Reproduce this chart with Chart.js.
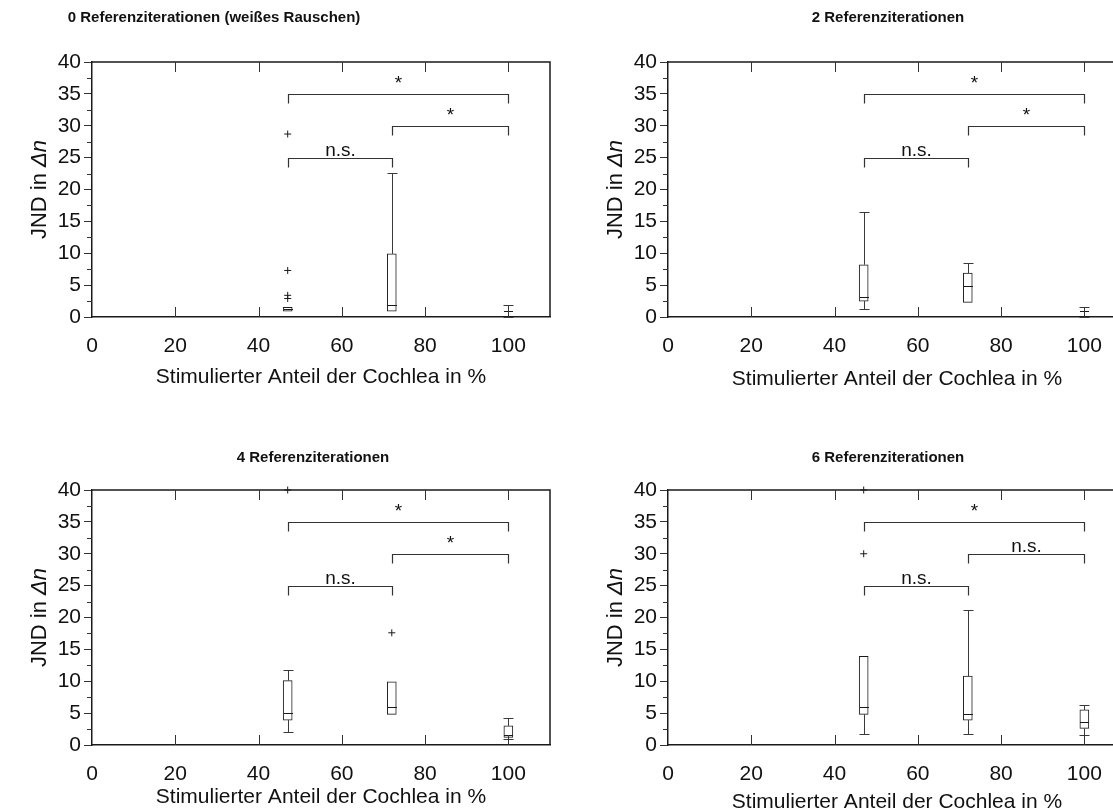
<!DOCTYPE html>
<html>
<head>
<meta charset="utf-8">
<title>JND – Stimulierter Anteil der Cochlea</title>
<script src="https://cdn.jsdelivr.net/npm/chart.js@4.4.1/dist/chart.umd.min.js"></script>
<style>
  html, body { margin: 0; padding: 0; background: #fff; overflow: hidden; width: 1113px; height: 808px; }
  .panel { position: absolute; width: 560px; height: 404px; }
</style>
</head>
<body>
<div class="panel" style="left:0;top:0"><canvas id="c0"></canvas></div>
<div class="panel" style="left:576px;top:0"><canvas id="c1"></canvas></div>
<div class="panel" style="left:0;top:428px"><canvas id="c2"></canvas></div>
<div class="panel" style="left:576px;top:428px"><canvas id="c3"></canvas></div>
<script>
// Box positions on the x axis (stimulated share of the cochlea, %)
const xPositions = [47, 72, 100];

const panelTitles = [
  '0 Referenziterationen (weißes Rauschen)',
  '2 Referenziterationen',
  '4 Referenziterationen',
  '6 Referenziterationen'
];

// One row per panel, one entry per box (47 %, 72 %, 100 %)
const whiskerLow  = [[0.9, 0.9, 0.0], [1.2, 2.3, 0.0], [2.1, 4.8, 1.0], [1.8, 1.8, 1.6]];
const quartile1   = [[0.9, 0.9, 0.9], [2.5, 2.3, 0.95], [3.9, 4.8, 1.2], [4.8, 3.9, 2.6]];
const medians     = [[1.3, 1.9, 0.9], [3.2, 4.9, 0.95], [5.0, 5.9, 1.5], [5.9, 4.8, 3.6]];
const quartile3   = [[1.5, 9.9, 0.9], [8.2, 6.9, 0.95], [10.1, 9.9, 3.0], [13.9, 10.8, 5.5]];
const whiskerHigh = [[1.5, 22.6, 1.9], [16.4, 8.4, 1.6], [11.8, 9.9, 4.3], [13.9, 21.2, 6.2]];

// Outliers (+)
const outlierX = [[47, 47, 47, 47], [], [47, 72], [47, 47]];
const outlierY = [[28.7, 7.3, 3.4, 2.9], [], [40, 17.6], [40, 30]];

// Significance brackets: from, to, level
const bracketFrom  = [47, 72, 47];
const bracketTo    = [100, 100, 72];
const bracketLevel = [35, 30, 25];
const bracketLabels = [
  ['*', '*', 'n.s.'],
  ['*', '*', 'n.s.'],
  ['*', '*', 'n.s.'],
  ['*', 'n.s.', 'n.s.']
];

// Axis settings
const xMin = 0, xMax = 110, xStep = 20, xLastLabel = 100;
const yMin = 0, yMax = 40, yStep = 5;
const xAxisTitle = 'Stimulierter Anteil der Cochlea in %';
const yAxisTitleMain = 'JND in ';
const yAxisTitleSymbol = 'Δn';

// Per-panel text placement (container pixels)
const titleCenterX = [214, 312, 313, 312];
const titleCenterY = [18, 18, 30, 30];
const xTitlePadBottom = [14, 12.5, 22, 17];

const FONT = "'Liberation Sans', Arial, Helvetica, sans-serif";
Chart.defaults.font.family = FONT;
Chart.defaults.color = '#111';

const INK = '#1a1a1a';
const BOX_W = 9;
const CAP_W = 10;

// Whiskers, medians, brackets, frame, inner ticks and titles
const boxPlotDecor = {
  id: 'boxPlotDecor',
  afterDatasetsDraw(chart, args, opts) {
    const p = opts.panel;
    const { ctx, chartArea: a } = chart;
    const xs = chart.scales.x, ys = chart.scales.y;
    ctx.save();

    // whiskers, caps and medians
    ctx.lineWidth = 1;
    xPositions.forEach((xv, i) => {
      const px = Math.round(xs.getPixelForValue(xv)) + 0.5;
      const lo = whiskerLow[p][i], hi = whiskerHigh[p][i];
      const b1 = quartile1[p][i], b3 = quartile3[p][i];
      ctx.strokeStyle = '#3a3a3a';
      ctx.beginPath();
      if (hi > b3) {
        const yh = Math.round(ys.getPixelForValue(hi)) + 0.5;
        ctx.moveTo(px, ys.getPixelForValue(b3));
        ctx.lineTo(px, yh);
        ctx.moveTo(px - CAP_W / 2, yh);
        ctx.lineTo(px + CAP_W / 2, yh);
      }
      if (lo < b1) {
        const yl = Math.round(ys.getPixelForValue(lo)) + 0.5;
        ctx.moveTo(px, ys.getPixelForValue(b1));
        ctx.lineTo(px, yl);
        ctx.moveTo(px - CAP_W / 2, yl);
        ctx.lineTo(px + CAP_W / 2, yl);
      }
      ctx.stroke();
      ctx.strokeStyle = INK;
      ctx.beginPath();
      const my = Math.round(ys.getPixelForValue(medians[p][i])) + 0.5;
      ctx.moveTo(px - BOX_W / 2, my);
      ctx.lineTo(px + BOX_W / 2, my);
      ctx.stroke();
    });

    // significance brackets
    ctx.strokeStyle = '#333';
    ctx.lineWidth = 1.2;
    ctx.fillStyle = '#111';
    ctx.textAlign = 'center';
    ctx.textBaseline = 'alphabetic';
    bracketLevel.forEach((lv, k) => {
      const x1 = Math.round(xs.getPixelForValue(bracketFrom[k])) + 0.5;
      const x2 = Math.round(xs.getPixelForValue(bracketTo[k])) + 0.5;
      const y = Math.round(ys.getPixelForValue(lv)) + 0.5;
      ctx.beginPath();
      ctx.moveTo(x1, y + 9);
      ctx.lineTo(x1, y);
      ctx.lineTo(x2, y);
      ctx.lineTo(x2, y + 9);
      ctx.stroke();
      const lab = bracketLabels[p][k];
      ctx.font = '19px ' + FONT;
      ctx.fillText(lab, (x1 + x2) / 2, lab === '*' ? y - 6 : y - 3);
    });

    // frame: top and right edges
    ctx.strokeStyle = INK;
    ctx.lineWidth = 1.5;
    ctx.beginPath();
    ctx.moveTo(a.left, a.top);
    ctx.lineTo(a.right, a.top);
    ctx.lineTo(a.right, a.bottom);
    ctx.stroke();

    // x ticks pointing inward from bottom and top
    ctx.lineWidth = 1;
    ctx.strokeStyle = '#333';
    xs.ticks.forEach(t => {
      if (t.value <= xMin || t.value > xLastLabel) return;
      const px = Math.round(xs.getPixelForValue(t.value)) + 0.5;
      ctx.beginPath();
      ctx.moveTo(px, a.bottom);
      ctx.lineTo(px, a.bottom - 10);
      ctx.moveTo(px, a.top);
      ctx.lineTo(px, a.top + 10);
      ctx.stroke();
    });

    // minor y ticks, outward
    for (let v = yMin + yStep / 2; v < yMax; v += yStep) {
      const py = Math.round(ys.getPixelForValue(v)) + 0.5;
      ctx.beginPath();
      ctx.moveTo(a.left, py);
      ctx.lineTo(a.left - 5, py);
      ctx.stroke();
    }

    // panel title
    ctx.fillStyle = '#111';
    ctx.font = 'bold 15px ' + FONT;
    ctx.textAlign = 'center';
    ctx.textBaseline = 'middle';
    ctx.fillText(panelTitles[p], titleCenterX[p], titleCenterY[p]);

    // y axis title with italic symbol
    ctx.translate(a.left - 52, (a.top + a.bottom) / 2);
    ctx.rotate(-Math.PI / 2);
    ctx.textBaseline = 'middle';
    ctx.textAlign = 'left';
    ctx.font = '22px ' + FONT;
    const w1 = ctx.measureText(yAxisTitleMain).width;
    ctx.font = 'italic 22px ' + FONT;
    const w2 = ctx.measureText(yAxisTitleSymbol).width;
    const start = -(w1 + w2) / 2;
    ctx.font = '22px ' + FONT;
    ctx.fillText(yAxisTitleMain, start, 0);
    ctx.font = 'italic 22px ' + FONT;
    ctx.fillText(yAxisTitleSymbol, start + w1, 0);

    ctx.restore();
  }
};

function makePanel(p) {
  const boxes = xPositions.map((xv, i) => ({ x: xv, y: [quartile1[p][i], quartile3[p][i]] }));
  const outliers = outlierX[p].map((xv, i) => ({ x: xv, y: outlierY[p][i] }));
  new Chart(document.getElementById('c' + p), {
    type: 'bar',
    data: {
      datasets: [
        {
          type: 'bar',
          data: boxes,
          backgroundColor: '#ffffff',
          borderColor: INK,
          borderWidth: 1,
          borderSkipped: false,
          barThickness: BOX_W,
          grouped: false
        },
        {
          type: 'scatter',
          data: outliers,
          pointStyle: 'cross',
          radius: 3.5,
          borderWidth: 1,
          borderColor: INK,
          clip: false
        }
      ]
    },
    options: {
      responsive: true,
      maintainAspectRatio: false,
      animation: false,
      events: [],
      layout: { padding: { left: 0, right: 10, top: 62, bottom: 0 } },
      plugins: {
        legend: { display: false },
        tooltip: { enabled: false },
        title: { display: false },
        boxPlotDecor: { panel: p }
      },
      scales: {
        x: {
          type: 'linear',
          min: xMin,
          max: xMax,
          bounds: 'data',
          offset: false,
          grid: { display: false, drawTicks: false },
          border: { display: true, color: INK, width: 1.5 },
          ticks: {
            stepSize: xStep,
            padding: 17,
            font: { size: 21 },
            color: '#111',
            maxRotation: 0,
            autoSkip: false,
            callback: v => (v > xLastLabel ? '' : String(v))
          },
          title: { display: true, text: xAxisTitle, font: { size: 21 }, color: '#111', padding: { top: 0, bottom: xTitlePadBottom[p] } },
          afterFit(s) { s.height = 87; s.paddingLeft = 0; s.paddingRight = 0; }
        },
        y: {
          min: yMin,
          max: yMax,
          grid: { display: true, drawOnChartArea: false, drawTicks: true, tickLength: 8, color: '#333', lineWidth: 1 },
          border: { display: true, color: INK, width: 1.5 },
          ticks: { stepSize: yStep, padding: 3, font: { size: 21 }, color: '#111' },
          afterFit(s) { s.width = 92; s.paddingTop = 0; s.paddingBottom = 0; }
        }
      }
    },
    plugins: [boxPlotDecor]
  });
}

[0, 1, 2, 3].forEach(makePanel);
</script>
</body>
</html>
